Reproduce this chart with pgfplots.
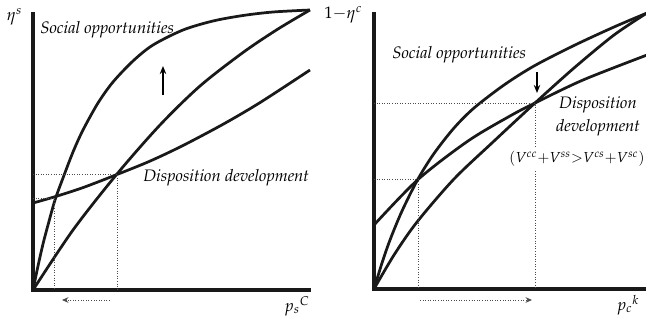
\documentclass[border=0pt]{standalone}
\usepackage[T1]{fontenc}
\usepackage{mathpazo}
\usepackage{pgfplots}
\pgfplotsset{compat=1.18}
\usetikzlibrary{arrows.meta}

\pgfplotsset{
  panel/.style={
    x=0.62pt, y=0.62pt,
    xmin=0, ymin=0,
    hide axis,
    clip=false,
    anchor=origin,
  },
}
\tikzset{
  curve/.style={smooth, line width=1.7pt, black!90},
  guide/.style={densely dotted, line width=0.6pt, black!70},
  frame/.style={line width=2.4pt, black!90, line join=miter},
  every node/.append style={font=\fontsize{10.3}{12}\selectfont},
}

\begin{document}
\begin{tikzpicture}
% left panel: origin at pixel (33,290)
\begin{axis}[panel, xmax=278, ymax=278, at={(0,0)}]
  \draw[frame] (axis cs:0,278) -- (axis cs:0,0) -- (axis cs:278,0);
  % social opportunities
  \addplot[curve, no marks] coordinates {(0,0) (5,24) (10,46) (15,65) (22,90) (30,112) (40,138) (50,160) (65,187) (80,208) (100,229) (120,245) (150,260) (180,269) (210,274.5) (240,278) (277,280)};
  % middle curve
  \addplot[curve, no marks] coordinates {(0,0) (40,60) (84,116) (127,165) (167,204) (210,237.5) (245,261) (277,280)};
  % disposition development
  \addplot[curve, no marks] coordinates {(0,87) (22,93.3) (50,102.4) (84,115.5) (117,128.9) (150,144.5) (190,165.7) (227,187.4) (277,220)};
  % guides
  \addplot[guide, no marks] coordinates {(0,92) (21,92) (21,0)};
  \addplot[guide, no marks] coordinates {(0,116) (84,116) (84,0)};
  \draw[guide, -{Stealth[length=4pt,width=3.5pt]}] (axis cs:77,-10) -- (axis cs:29,-10);
  \draw[line width=1.2pt, -{Stealth[length=5pt,width=4pt]}] (axis cs:130,195) -- (axis cs:130,224);
  \node[anchor=east] at (axis cs:-5,273) {$\eta^s$};
  \node[anchor=west, inner sep=0pt] at (axis cs:7,260) {\itshape Social opportunities};
  \node[anchor=west, inner sep=0pt] at (axis cs:110,112) {\itshape Disposition development};
  \node at (axis cs:264,-16) {$p_s{}^{C}$};
  \coordinate (bl) at (axis cs:-33,-34);
  \coordinate (tr) at (axis cs:613,290);
\end{axis}
% right panel: origin at pixel (374,289)
\begin{axis}[panel, xmax=272, ymax=277, at={(211.42pt,0.62pt)}]
  \draw[frame] (axis cs:0,277) -- (axis cs:0,0) -- (axis cs:274,0);
  % social opportunities
  \addplot[curve, no marks] coordinates {(0,0) (8,26) (16,49) (28,78) (44,110) (60,135.5) (80,161) (100,181) (130,204) (160,223) (200,243.5) (240,262) (273,276)};
  % disposition development
  \addplot[curve, no marks] coordinates {(0,64) (44,109.5) (94,148) (136,173) (161,186) (209,209) (273,234)};
  % lower curve
  \addplot[curve, no marks] coordinates {(0,0) (20,34) (43,67) (80,110) (119,147) (161,186) (200,221) (240,254) (273,276)};
  % guides
  \addplot[guide, no marks] coordinates {(0,110) (44,110) (44,0)};
  \addplot[guide, no marks] coordinates {(0,186) (161,186) (161,143)};
  \addplot[guide, no marks] coordinates {(161,118) (161,0)};
  \draw[guide, -{Stealth[length=4pt,width=3.5pt]}] (axis cs:46,-11) -- (axis cs:158,-11);
  \draw[line width=1.2pt, -{Stealth[length=5pt,width=4pt]}] (axis cs:163,217) -- (axis cs:163,196);
  \node[anchor=east] at (axis cs:-6,274) {$1{-}\eta^c$};
  \node[anchor=west, inner sep=0pt] at (axis cs:18,234) {\itshape Social opportunities};
  \node at (axis cs:224,184) {\itshape Disposition};
  \node at (axis cs:224,161) {\itshape development};
  \node[font=\fontsize{9}{10}\selectfont] at (axis cs:203,130) {$(V^{cc}{+}V^{ss}{>}V^{cs}{+}V^{sc})$};
  \node at (axis cs:254,-16) {$p_c{}^{k}$};
\end{axis}
\pgfresetboundingbox
\path[use as bounding box] (bl) rectangle (tr);
\end{tikzpicture}
\end{document}
